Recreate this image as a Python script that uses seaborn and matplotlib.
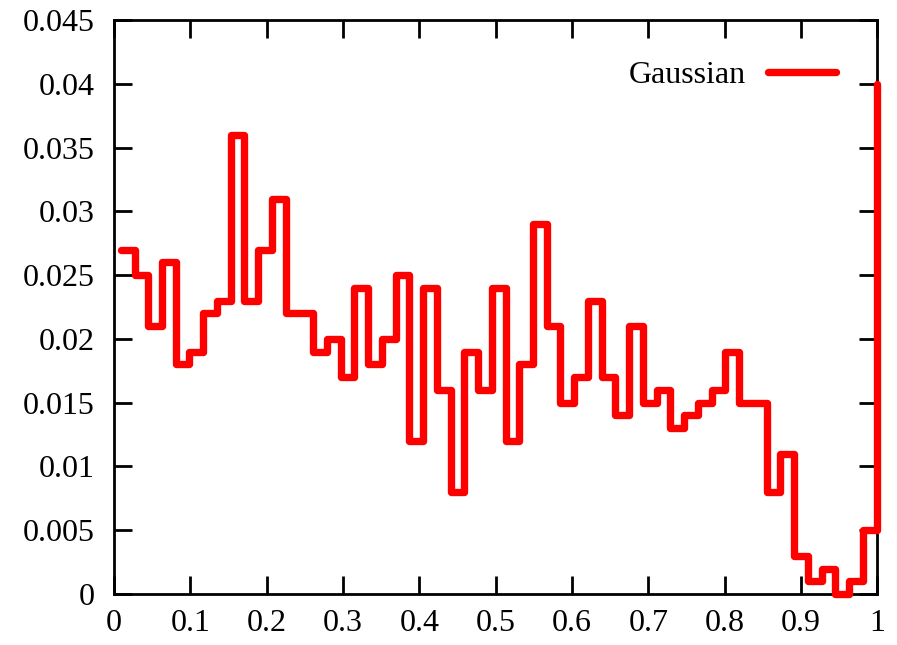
import numpy as np
import pandas as pd
import matplotlib
matplotlib.use('Agg')
import matplotlib.pyplot as plt
import seaborn as sns

# histogram heights, one per bin (bin width 0.018, first centre 0.009)
bin_start = 0.009
bin_width = 0.018
heights = [0.027, 0.025, 0.021, 0.026, 0.018, 0.019, 0.022, 0.023, 0.036, 0.023,
           0.027, 0.031, 0.022, 0.022, 0.019, 0.020, 0.017, 0.024, 0.018, 0.020,
           0.025, 0.012, 0.024, 0.016, 0.008, 0.019, 0.016, 0.024, 0.012, 0.018,
           0.029, 0.021, 0.015, 0.017, 0.023, 0.017, 0.014, 0.021, 0.015, 0.016,
           0.013, 0.014, 0.015, 0.016, 0.019, 0.015, 0.015, 0.008, 0.011, 0.003,
           0.001, 0.002, 0.000, 0.001, 0.005, 0.040]
x_ticks = [0, 0.1, 0.2, 0.3, 0.4, 0.5, 0.6, 0.7, 0.8, 0.9, 1]
x_labels = ['0', '0.1', '0.2', '0.3', '0.4', '0.5', '0.6', '0.7', '0.8', '0.9', '1']
y_ticks = [0, 0.005, 0.01, 0.015, 0.02, 0.025, 0.03, 0.035, 0.04, 0.045]
y_labels = ['0', '0.005', '0.01', '0.015', '0.02', '0.025', '0.03', '0.035', '0.04', '0.045']

sns.set_style('ticks')
plt.rcParams['font.family'] = ['Liberation Serif', 'DejaVu Serif']
plt.rcParams['text.color'] = 'black'

df = pd.DataFrame({'x': bin_start + bin_width * np.arange(len(heights)),
                   'p': heights})

fig = plt.figure(figsize=(8.97, 6.45), dpi=100)
ax = fig.add_axes([0.127, 0.079, 0.851, 0.89])

sns.lineplot(data=df, x='x', y='p', drawstyle='steps-post', color='#ff0000',
             linewidth=5.3, label='Gaussian', sort=False, ax=ax, clip_on=False,
             zorder=3)

ax.set_xlim(0, 1)
ax.set_ylim(0, 0.045)
ax.set_xticks(x_ticks)
ax.set_xticklabels(x_labels)
ax.set_yticks(y_ticks)
ax.set_yticklabels(y_labels)
ax.set_xlabel('')
ax.set_ylabel('')
ax.tick_params(direction='in', length=13, width=2, labelsize=23,
               top=True, right=True, colors='black')
ax.tick_params(axis='x', pad=11)
ax.tick_params(axis='y', pad=14)
for s in ax.spines.values():
    s.set_linewidth(2)
    s.set_color('black')

leg = ax.legend(loc='upper right', frameon=False, markerfirst=False,
                fontsize=23, handlelength=2.1, handletextpad=0.7,
                bbox_to_anchor=(0.983, 0.979), labelcolor='black')

plt.savefig('out.png', dpi=100)
